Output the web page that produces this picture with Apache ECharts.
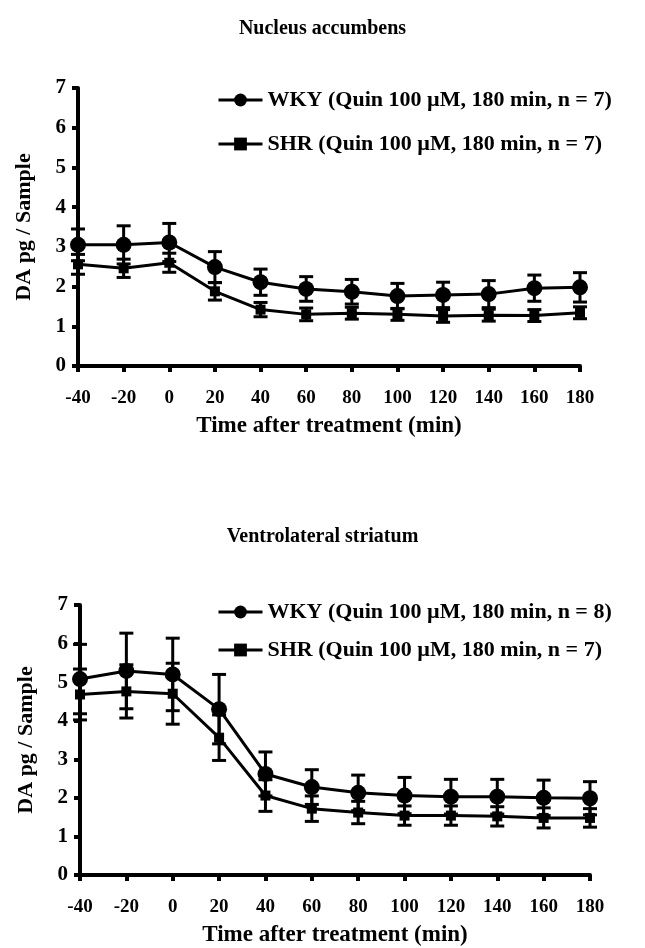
<!DOCTYPE html>
<html>
<head>
<meta charset="utf-8">
<script src="https://cdn.jsdelivr.net/npm/echarts@6/dist/echarts.min.js"></script>
<style>
  html, body { margin: 0; padding: 0; background: #fff; }
  #main { width: 645px; height: 948px; }
</style>
</head>
<body>
<div id="main"></div>
<script>
// time points (min)
var times = [-40, -20, 0, 20, 40, 60, 80, 100, 120, 140, 160, 180];
var xTicks = [-40, -20, 0, 20, 40, 60, 80, 100, 120, 140, 160, 180];

// Nucleus accumbens
var wkyNA = [3.05, 3.05, 3.11, 2.49, 2.11, 1.94, 1.87, 1.76, 1.79, 1.81, 1.96, 1.98];
var wkyNAErr = [0.40, 0.48, 0.48, 0.39, 0.33, 0.31, 0.31, 0.32, 0.32, 0.34, 0.33, 0.37];
var shrNA = [2.56, 2.46, 2.60, 1.88, 1.42, 1.30, 1.33, 1.30, 1.26, 1.28, 1.27, 1.34];
var shrNAErr = [0.25, 0.23, 0.24, 0.22, 0.18, 0.16, 0.15, 0.15, 0.16, 0.15, 0.15, 0.15];

// Ventrolateral striatum
var wkyVS = [5.08, 5.29, 5.20, 4.30, 2.62, 2.28, 2.13, 2.06, 2.03, 2.03, 2.00, 1.99];
var wkyVSErr = [0.90, 0.98, 0.94, 0.90, 0.57, 0.45, 0.46, 0.47, 0.45, 0.45, 0.46, 0.43];
var shrVS = [4.68, 4.76, 4.70, 3.56, 2.06, 1.72, 1.62, 1.54, 1.54, 1.52, 1.48, 1.48];
var shrVSErr = [0.66, 0.69, 0.79, 0.59, 0.41, 0.33, 0.29, 0.25, 0.25, 0.25, 0.26, 0.24];

var names = {
  wkyNA: 'WKY (Quin 100 \u00b5M, 180 min, n = 7)',
  shrNA: 'SHR (Quin 100 \u00b5M, 180 min, n = 7)',
  wkyVS: 'WKY (Quin 100 \u00b5M, 180 min, n = 8)',
  shrVS: 'SHR (Quin 100 \u00b5M, 180 min, n = 7)'
};

var font = 'Liberation Serif';

function pairs(vals) {
  return times.map(function (t, i) { return [t, vals[i]]; });
}
function errData(vals, errs) {
  return times.map(function (t, i) { return [t, vals[i] - errs[i], vals[i] + errs[i]]; });
}

// 误差线
function renderErr(params, api) {
  var lo = api.coord([api.value(0), api.value(1)]);
  var hi = api.coord([api.value(0), api.value(2)]);
  var w = 7;
  var st = { stroke: '#000', lineWidth: 3 };
  return {
    type: 'group',
    children: [
      { type: 'line', shape: { x1: hi[0], y1: hi[1], x2: lo[0], y2: lo[1] }, style: st },
      { type: 'line', shape: { x1: hi[0] - w, y1: hi[1], x2: hi[0] + w, y2: hi[1] }, style: st },
      { type: 'line', shape: { x1: lo[0] - w, y1: lo[1], x2: lo[0] + w, y2: lo[1] }, style: st }
    ]
  };
}

function xAxis(idx) {
  return {
    type: 'value', gridIndex: idx, min: -40, max: 180, interval: 20,
    name: 'Time after treatment (min)', nameLocation: 'middle', nameGap: 49,
    nameTextStyle: { fontFamily: font, fontWeight: 'bold', fontSize: 23, color: '#000' },
    axisLine: { onZero: false, lineStyle: { color: '#000', width: 4 } },
    axisTick: { length: 6, lineStyle: { color: '#000', width: 4 } },
    axisLabel: { fontFamily: font, fontWeight: 'bold', fontSize: 19, color: '#000', margin: 23,
      formatter: function (v) { return xTicks.indexOf(v) >= 0 ? String(v) : ''; } },
    splitLine: { show: false }
  };
}
function yAxis(idx) {
  return {
    type: 'value', gridIndex: idx, min: 0, max: 7, interval: 1,
    name: 'DA pg / Sample', nameLocation: 'middle', nameGap: 43, nameRotate: 90,
    nameTextStyle: { fontFamily: font, fontWeight: 'bold', fontSize: 22, color: '#000' },
    axisLine: { show: true, onZero: false, lineStyle: { color: '#000', width: 4 } },
    axisTick: { show: true, length: 6, lineStyle: { color: '#000', width: 4 } },
    axisLabel: { fontFamily: font, fontWeight: 'bold', fontSize: 21, color: '#000', margin: 12 },
    splitLine: { show: false }
  };
}
function lineSeries(name, vals, idx, symbol, size) {
  return {
    name: name, type: 'line', xAxisIndex: idx, yAxisIndex: idx,
    data: pairs(vals), symbol: symbol, symbolSize: size,
    itemStyle: { color: '#000' }, lineStyle: { color: '#000', width: 3 },
    z: 3, animation: false
  };
}
function errSeries(vals, errs, idx) {
  return {
    type: 'custom', xAxisIndex: idx, yAxisIndex: idx,
    data: errData(vals, errs), renderItem: renderErr, z: 2, animation: false
  };
}
function legend(name, left, top) {
  return {
    data: [name], left: left, top: top, itemWidth: 44, itemHeight: 16, itemGap: 4,
    lineStyle: { width: 3 },
    textStyle: { fontFamily: font, fontWeight: 'bold', fontSize: 22, color: '#000' },
    selectedMode: false
  };
}

var chart = echarts.init(document.getElementById('main'));
chart.setOption({
  backgroundColor: '#fff',
  animation: false,
  title: [
    { text: 'Nucleus accumbens', left: 'center', top: 14,
      textStyle: { fontFamily: font, fontWeight: 'bold', fontSize: 20, color: '#000' } },
    { text: 'Ventrolateral striatum', left: 'center', top: 522,
      textStyle: { fontFamily: font, fontWeight: 'bold', fontSize: 20, color: '#000' } }
  ],
  legend: [
    legend(names.wkyNA, 212, 84),
    legend(names.shrNA, 212, 128),
    legend(names.wkyVS, 212, 596),
    legend(names.shrVS, 212, 634)
  ],
  grid: [
    { left: 78, right: 65, top: 88, bottom: 582 },
    { left: 80, right: 55, top: 605, bottom: 66 }
  ],
  xAxis: [xAxis(0), xAxis(1)],
  yAxis: [yAxis(0), yAxis(1)],
  series: [
    errSeries(wkyNA, wkyNAErr, 0),
    errSeries(shrNA, shrNAErr, 0),
    lineSeries(names.wkyNA, wkyNA, 0, 'circle', 16),
    lineSeries(names.shrNA, shrNA, 0, 'rect', 10),
    errSeries(wkyVS, wkyVSErr, 1),
    errSeries(shrVS, shrVSErr, 1),
    lineSeries(names.wkyVS, wkyVS, 1, 'circle', 16),
    lineSeries(names.shrVS, shrVS, 1, 'rect', 10)
  ]
});
</script>
</body>
</html>
